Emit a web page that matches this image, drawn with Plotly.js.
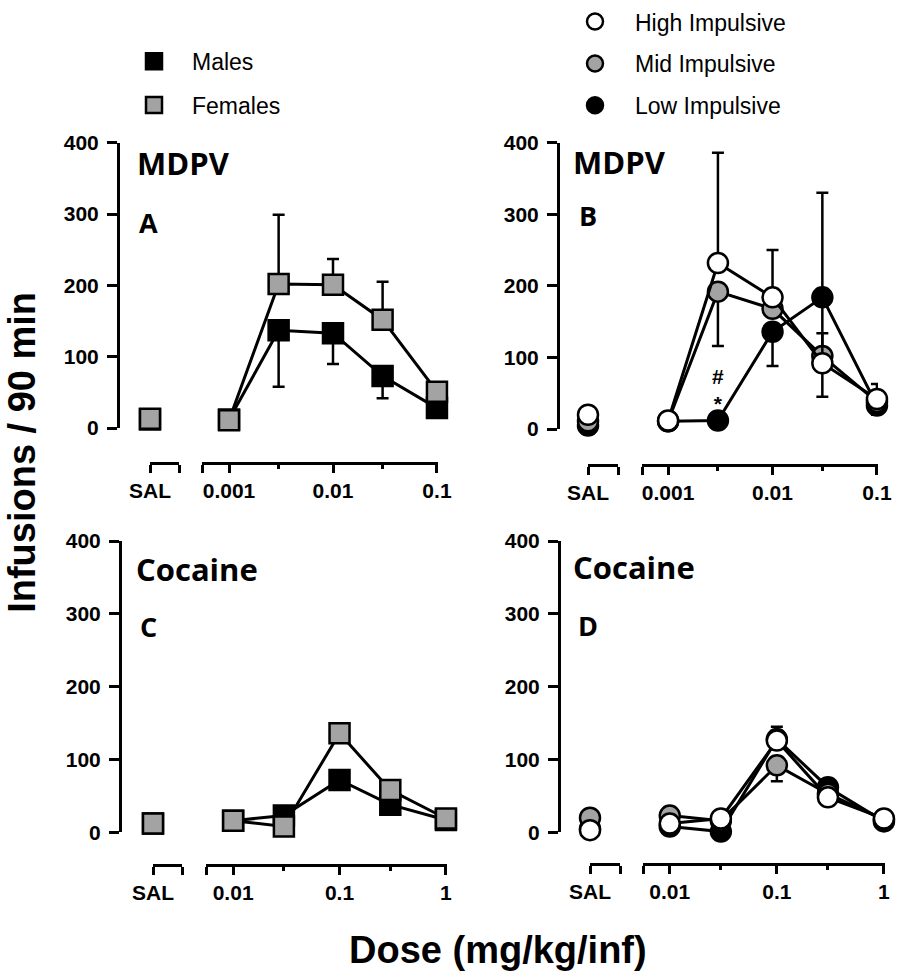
<!DOCTYPE html>
<html><head><meta charset="utf-8">
<script src="https://cdn.plot.ly/plotly-3.0.1.min.js"></script>
<style>html,body{margin:0;padding:0;background:#fff;}#chart{width:898px;height:975px;}</style>
</head><body><div id="chart"></div>
<script>
// ---------------- DATA ----------------
const sexNames = ['Males', 'Females'];
const impNames = ['High Impulsive', 'Mid Impulsive', 'Low Impulsive'];
const panelDrugs = ['MDPV', 'MDPV', 'Cocaine', 'Cocaine'];
const panelLetters = ['A', 'B', 'C', 'D'];
const salLabel = 'SAL';

const mdpvDoses = [0.001, 0.003, 0.01, 0.03, 0.1];
const cocaineDoses = [0.01, 0.03, 0.1, 0.3, 1];

const yTickVals = [0, 100, 200, 300, 400];
const mdpvTickVals = [0.001, 0.01, 0.1];
const mdpvTickText = ['0.001', '0.01', '0.1'];
const mdpvMinorTicks = [0.003, 0.03];
const cocaineTickVals = [0.01, 0.1, 1];
const cocaineTickText = ['0.01', '0.1', '1'];
const cocaineMinorTicks = [0.03, 0.3];

// Panel A : MDPV by sex
const malesMdpvSal = [12];
const malesMdpv = [12, 137, 133, 73, 28];
const malesMdpvErrUp = [0, 0, 0, 0, 0];
const malesMdpvErrDown = [0, 79, 43, 31, 0];
const femalesMdpvSal = [13];
const femalesMdpv = [11, 202, 201, 152, 51];
const femalesMdpvErrUp = [0, 97, 36, 53, 0];
const femalesMdpvErrDown = [0, 0, 0, 0, 0];

// Panel B : MDPV by impulsivity
const lowMdpvSal = [5];
const lowMdpv = [11, 12, 136, 184, 33];
const lowMdpvErrUp = [0, 0, 0, 146, 0];
const lowMdpvErrDown = [0, 0, 48, 139, 0];
const midMdpvSal = [11];
const midMdpv = [11, 192, 168, 102, 38];
const midMdpvErrUp = [0, 0, 0, 0, 0];
const midMdpvErrDown = [0, 76, 0, 0, 18];
const highMdpvSal = [20];
const highMdpv = [12, 232, 184, 92, 42];
const highMdpvErrUp = [0, 154, 66, 42, 21];
const highMdpvErrDown = [0, 0, 0, 0, 0];

// Panel C : Cocaine by sex
const malesCocaineSal = [12];
const malesCocaine = [16, 23, 72, 38, 17];
const malesCocaineErrUp = [0, 0, 12, 0, 0];
const malesCocaineErrDown = [0, 0, 12, 0, 0];
const femalesCocaineSal = [12];
const femalesCocaine = [16, 8, 136, 58, 19];
const femalesCocaineErrUp = [0, 0, 0, 0, 0];
const femalesCocaineErrDown = [0, 0, 0, 0, 0];

// Panel D : Cocaine by impulsivity
const lowCocaineSal = [5];
const lowCocaine = [8, 1, 128, 62, 15];
const lowCocaineErrUp = [0, 0, 0, 0, 0];
const lowCocaineErrDown = [0, 0, 0, 0, 0];
const midCocaineSal = [20];
const midCocaine = [23, 16, 92, 53, 17];
const midCocaineErrUp = [0, 0, 0, 0, 0];
const midCocaineErrDown = [0, 0, 22, 0, 0];
const highCocaineSal = [3];
const highCocaine = [12, 19, 126, 48, 19];
const highCocaineErrUp = [0, 0, 19, 0, 0];
const highCocaineErrDown = [0, 0, 0, 0, 0];

// significance marks in panel B (Low vs others at 0.003)
const sigText = ['#', '*'];
const sigDose = 0.003;
const sigY = 54;

// ---------------- LAYOUT HELPERS ----------------
const W = 898, H = 975;
const px = v => v / W;
const py = v => 1 - v / H;
const GRAY = '#a3a3a3';
const TICKFONT = {family: 'Liberation Sans, Arial, sans-serif', size: 21, color: '#000', weight: 'bold'};

const styles = {
  male:   {symbol: 'square', color: '#000'},
  female: {symbol: 'square', color: GRAY},
  high:   {symbol: 'circle', color: '#fff'},
  mid:    {symbol: 'circle', color: GRAY},
  low:    {symbol: 'circle', color: '#000'}
};

function mk(style) {
  return {symbol: style.symbol, color: style.color, size: 20, line: {color: '#000', width: 2.5}};
}

function series(name, st, salVal, doses, vals, up, down, xd, xs, y) {
  const err = {type: 'data', symmetric: false, array: up, arrayminus: down,
               color: '#000', thickness: 2.5, width: 6};
  return [
    {type: 'scatter', mode: 'markers', x: [0], y: salVal, xaxis: xs, yaxis: y,
     marker: mk(st), showlegend: false, cliponaxis: false, hoverinfo: 'skip', name: name},
    {type: 'scatter', mode: 'lines+markers', x: doses, y: vals, xaxis: xd, yaxis: y,
     marker: mk(st), line: {color: '#000', width: 3}, error_y: err,
     showlegend: false, cliponaxis: false, hoverinfo: 'skip', name: name}
  ];
}

let traces = [];
// Panel A
traces = traces.concat(series(sexNames[0], styles.male, malesMdpvSal, mdpvDoses, malesMdpv, malesMdpvErrUp, malesMdpvErrDown, 'x', 'x2', 'y'));
traces = traces.concat(series(sexNames[1], styles.female, femalesMdpvSal, mdpvDoses, femalesMdpv, femalesMdpvErrUp, femalesMdpvErrDown, 'x', 'x2', 'y'));
// Panel B
traces = traces.concat(series(impNames[2], styles.low, lowMdpvSal, mdpvDoses, lowMdpv, lowMdpvErrUp, lowMdpvErrDown, 'x3', 'x4', 'y2'));
traces = traces.concat(series(impNames[1], styles.mid, midMdpvSal, mdpvDoses, midMdpv, midMdpvErrUp, midMdpvErrDown, 'x3', 'x4', 'y2'));
traces = traces.concat(series(impNames[0], styles.high, highMdpvSal, mdpvDoses, highMdpv, highMdpvErrUp, highMdpvErrDown, 'x3', 'x4', 'y2'));
// Panel C
traces = traces.concat(series(sexNames[0], styles.male, malesCocaineSal, cocaineDoses, malesCocaine, malesCocaineErrUp, malesCocaineErrDown, 'x5', 'x6', 'y3'));
traces = traces.concat(series(sexNames[1], styles.female, femalesCocaineSal, cocaineDoses, femalesCocaine, femalesCocaineErrUp, femalesCocaineErrDown, 'x5', 'x6', 'y3'));
// Panel D
traces = traces.concat(series(impNames[2], styles.low, lowCocaineSal, cocaineDoses, lowCocaine, lowCocaineErrUp, lowCocaineErrDown, 'x7', 'x8', 'y4'));
traces = traces.concat(series(impNames[1], styles.mid, midCocaineSal, cocaineDoses, midCocaine, midCocaineErrUp, midCocaineErrDown, 'x7', 'x8', 'y4'));
traces = traces.concat(series(impNames[0], styles.high, highCocaineSal, cocaineDoses, highCocaine, highCocaineErrUp, highCocaineErrDown, 'x7', 'x8', 'y4'));

// Legend entries
const legendDefs = [
  [sexNames[0], styles.male, 'legend'], [sexNames[1], styles.female, 'legend'],
  [impNames[0], styles.high, 'legend2'], [impNames[1], styles.mid, 'legend2'], [impNames[2], styles.low, 'legend2']
];
legendDefs.forEach((d, i) => {
  traces.push({type: 'scatter', mode: 'markers', x: [null], y: [null], xaxis: 'x2', yaxis: 'y',
    marker: mk(d[1]), name: d[0], legend: d[2], legendgroup: 'g' + i, showlegend: true, hoverinfo: 'skip'});
});

function yAx(top, bot, xpos) {
  return {domain: [py(bot), py(top)], range: [0, 400], anchor: 'free', position: px(xpos),
    showline: true, linewidth: 3, linecolor: '#000', ticks: 'outside', ticklen: 10, tickwidth: 3,
    tickcolor: '#000', tickmode: 'array', tickvals: yTickVals, tickfont: TICKFONT,
    showgrid: false, zeroline: false, fixedrange: true, ticklabelstandoff: 4};
}
function doseAx(l, r, lo, hi, ypos, tv, tt, minor) {
  return {type: 'log', domain: [px(l), px(r)], range: [lo, hi], anchor: 'free', position: py(ypos),
    showline: true, linewidth: 3, linecolor: '#000', ticks: 'outside', ticklen: 8, tickwidth: 3,
    tickcolor: '#000', tickmode: 'array', tickvals: [Math.pow(10, lo)].concat(tv), ticktext: [''].concat(tt),
    minor: {tickmode: 'array', tickvals: minor, ticks: 'outside', ticklen: 4, tickwidth: 3, tickcolor: '#000', showgrid: false},
    tickfont: TICKFONT, showgrid: false, zeroline: false, fixedrange: true};
}
function salAx(l, r, ypos) {
  return {type: 'linear', domain: [px(l), px(r)], range: [0, 1], anchor: 'free', position: py(ypos),
    showline: true, linewidth: 3, linecolor: '#000', ticks: 'outside', ticklen: 8, tickwidth: 3,
    tickcolor: '#000', tickmode: 'array', tickvals: [0, 1], ticktext: [salLabel, ''],
    tickfont: TICKFONT, showgrid: false, zeroline: false, fixedrange: true};
}

const annFontTitle = {family: 'Open Sans, sans-serif', size: 31, color: '#000', weight: 'bold'};
const annFontLetter = {family: 'Open Sans, sans-serif', size: 27, color: '#000', weight: 'bold'};
const panelPos = [[135, 155, 137, 215], [571, 154, 577, 208], [134, 565, 138, 623], [571, 563, 576, 622]];
const annotations = [];
panelPos.forEach((p, i) => {
  annotations.push({xref: 'paper', yref: 'paper', x: px(p[0]), y: py(p[1]), xanchor: 'left', yanchor: 'middle',
    text: panelDrugs[i], showarrow: false, font: annFontTitle});
  annotations.push({xref: 'paper', yref: 'paper', x: px(p[2]), y: py(p[3]), xanchor: 'left', yanchor: 'middle',
    text: panelLetters[i], showarrow: false, font: annFontLetter});
});
annotations.push({xref: 'x3', yref: 'y2', x: Math.log10(sigDose), y: sigY, text: sigText.join('<br>'), showarrow: false,
  xanchor: 'center', yanchor: 'middle',
  font: {family: 'Liberation Sans, Arial, sans-serif', size: 21, color: '#000', weight: 'bold'}});
annotations.push({xref: 'paper', yref: 'paper', x: px(22), y: py(448), textangle: -90, text: 'Infusions / 90 min',
  showarrow: false, xanchor: 'center', yanchor: 'middle',
  font: {family: 'Liberation Sans, Arial, sans-serif', size: 38, color: '#000', weight: 'bold'}});
annotations.push({xref: 'paper', yref: 'paper', x: px(498), y: py(950), text: 'Dose (mg/kg/inf)',
  showarrow: false, xanchor: 'center', yanchor: 'middle',
  font: {family: 'Liberation Sans, Arial, sans-serif', size: 38, color: '#000', weight: 'bold'}});

const legFont = {family: 'Liberation Sans, Arial, sans-serif', size: 23, color: '#000'};
const layout = {
  width: W, height: H, margin: {l: 0, r: 0, t: 0, b: 0},
  paper_bgcolor: '#fff', plot_bgcolor: 'rgba(0,0,0,0)',
  showlegend: true, hovermode: false,
  legend: {x: px(116), y: py(31), xanchor: 'left', yanchor: 'top', font: legFont, bgcolor: 'rgba(0,0,0,0)',
    traceorder: 'grouped', tracegroupgap: 11, itemwidth: 66},
  legend2: {x: px(555), y: py(-9), xanchor: 'left', yanchor: 'top', font: legFont, bgcolor: 'rgba(0,0,0,0)',
    traceorder: 'grouped', tracegroupgap: 9, itemwidth: 70},
  yaxis: yAx(135, 423, 118),
  xaxis: doseAx(202, 438, -3.26, -0.99, 458, mdpvTickVals, mdpvTickText, mdpvMinorTicks),
  xaxis2: salAx(150, 179, 458),
  yaxis2: yAx(135, 424, 558),
  xaxis3: doseAx(642, 878, -3.25, -0.99, 460, mdpvTickVals, mdpvTickText, mdpvMinorTicks),
  xaxis4: salAx(588, 618, 460),
  yaxis3: yAx(537, 831, 120),
  xaxis5: doseAx(206, 447, -2.255, 0.01, 864, cocaineTickVals, cocaineTickText, cocaineMinorTicks),
  xaxis6: salAx(153, 182, 864),
  yaxis4: yAx(537, 831, 559),
  xaxis7: doseAx(643, 885, -2.25, 0.01, 863, cocaineTickVals, cocaineTickText, cocaineMinorTicks),
  xaxis8: salAx(590, 620, 863),
  annotations: annotations
};

Plotly.newPlot('chart', traces, layout, {staticPlot: true, displayModeBar: false});
</script>
</body></html>
